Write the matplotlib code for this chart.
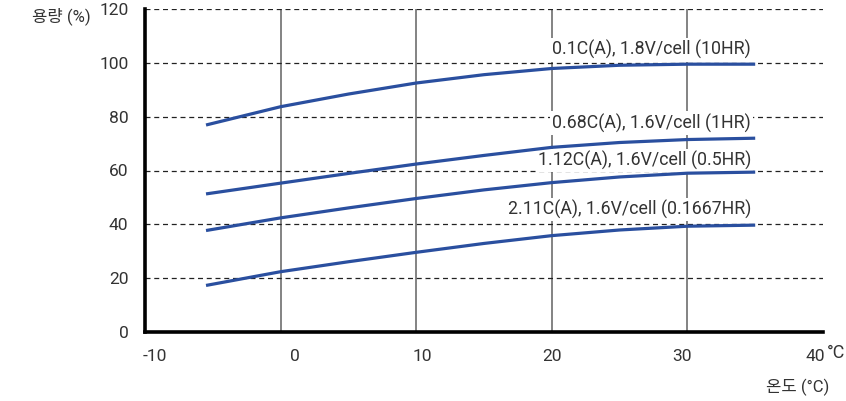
import matplotlib
matplotlib.use("Agg")
import matplotlib.pyplot as plt
import matplotlib.transforms as mtransforms

plt.rcParams['font.family'] = ['Roboto', 'Noto Sans CJK KR', 'DejaVu Sans']

# ---- data ----
temps = [-5.5, 0, 5, 10, 15, 20, 25, 30, 35]
cap_10hr = [76.9, 83.7, 88.4, 92.5, 95.6, 97.9, 99.1, 99.5, 99.5]
cap_1hr = [51.3, 55.3, 58.9, 62.4, 65.6, 68.6, 70.4, 71.5, 72.0]
cap_05hr = [37.7, 42.4, 46.1, 49.6, 52.8, 55.5, 57.6, 59.0, 59.4]
cap_01667hr = [17.3, 22.4, 26.1, 29.6, 32.9, 35.8, 37.9, 39.3, 39.7]
series = [cap_10hr, cap_1hr, cap_05hr, cap_01667hr]
series_labels = ["0.1C(A), 1.8V/cell (10HR)", "0.68C(A), 1.6V/cell (1HR)",
                 "1.12C(A), 1.6V/cell (0.5HR)", "2.11C(A), 1.6V/cell (0.1667HR)"]
label_y = [104.8, 77.6, 63.8, 45.5]
label_x = 34.7
x_ticks = [-10, 0, 10, 20, 30, 40]
y_ticks = [0, 20, 40, 60, 80, 100, 120]
x_label = "온도 (°C)"
y_label = "용량 (%)"

line_color = "#2a4f9f"
text_color = "#333333"

fig = plt.figure(figsize=(8.46, 4.01), dpi=100)
ax = fig.add_axes([145/846, 1 - 332/401, (823-145)/846, (332-9)/401])
ax.set_xlim(-10, 40)
ax.set_ylim(0, 120)

# grid
for xv in x_ticks[1:-1]:
    ax.axvline(xv, color="#7a7a7a", lw=1.3, zorder=1)
for yv in y_ticks[1:]:
    ax.axhline(yv, color="#222222", lw=0.9, ls=(0, (4, 3)), zorder=1)

for vals in series:
    ax.plot(temps, vals, color=line_color, lw=2.3, zorder=3, solid_capstyle='butt')

for lab, ly in zip(series_labels, label_y):
    ax.text(label_x, ly, lab, ha="right", va="center", fontsize=12.8,
            color=text_color, zorder=2,
            bbox=dict(facecolor="white", edgecolor="none", pad=1.5))

for s in ["top", "right"]:
    ax.spines[s].set_visible(False)
for s in ["left", "bottom"]:
    ax.spines[s].set_linewidth(2.6)
    ax.spines[s].set_color("black")
    ax.spines[s].set_zorder(5)

ax.set_xticks(x_ticks)
ax.set_xticklabels([str(v) for v in x_ticks])
ax.set_yticks(y_ticks)
ax.set_yticklabels([str(v) for v in y_ticks])
ax.tick_params(axis="both", length=0, labelsize=12.5, labelcolor=text_color)
ax.tick_params(axis="y", pad=12)
ax.tick_params(axis="x", pad=12)

# small horizontal nudges of x tick labels as in the reference
offsets_px = [10, 14, 6, 0, -5, -8]
for lbl, dx in zip(ax.get_xticklabels(), offsets_px):
    lbl.set_transform(lbl.get_transform() + mtransforms.ScaledTranslation(dx / 100, 0, fig.dpi_scale_trans))

fig.text(827/846, 1 - 353/401, "°C", ha="left", va="center", fontsize=13, color=text_color)
fig.text(829/846, 1 - 387/401, x_label, ha="right", va="center", fontsize=12, color=text_color)
fig.text(32/846, 1 - 16/401, y_label, ha="left", va="center", fontsize=12, color=text_color)

fig.savefig("out.png", dpi=100)
